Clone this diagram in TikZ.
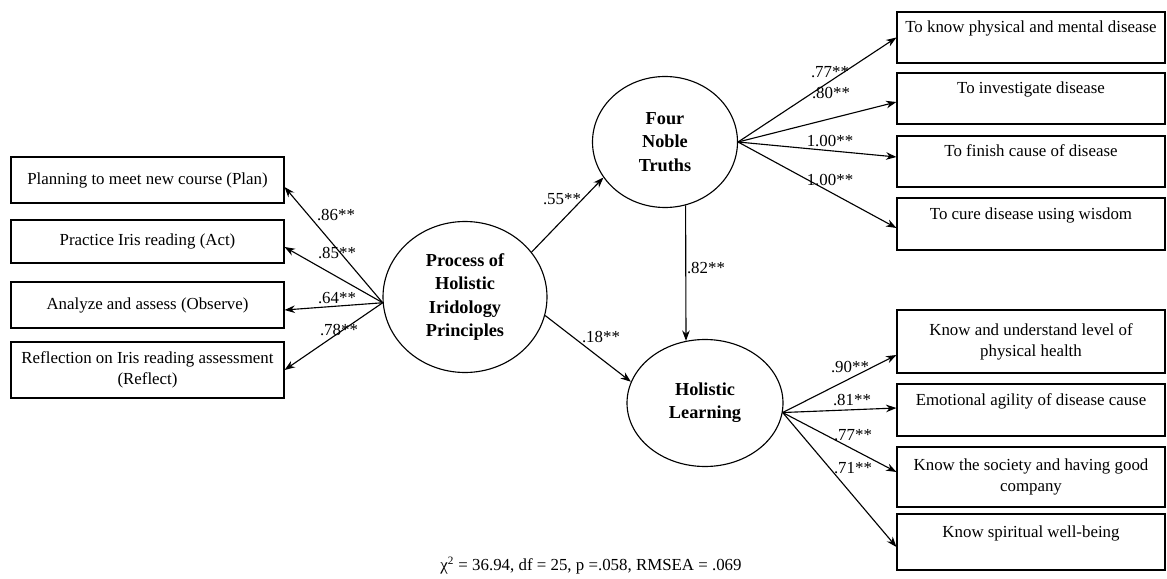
\documentclass[tikz,border=0pt]{standalone}
\usepackage{fontspec}
\setmainfont{Liberation Serif}
\usetikzlibrary{arrows.meta,shapes.geometric}

\tikzset{
  mbox/.style={draw, line width=0.8pt, minimum width=6.825cm, align=center,
    inner sep=0pt, font=\fontsize{12}{15}\selectfont},
  rbox/.style={mbox, minimum width=6.7cm},
  latent/.style={draw, ellipse, line width=0.8pt, align=center, inner sep=0pt,
    font=\fontsize{13}{16.5}\selectfont\bfseries},
  arr/.style={line width=0.8pt, -{Stealth[length=2.6mm,width=1.9mm]}},
  coef/.style={inner sep=0pt, font=\fontsize{12}{14}\selectfont},
}

\begin{document}
\begin{tikzpicture}
  \useasboundingbox (0,0) rectangle (29.175,14.45);

  % Latent variables
  \node[latent, minimum width=4.1cm, minimum height=3.775cm] (proc) at (11.625,7.025)
    {Process of\\Holistic\\Iridology\\Principles};
  \node[latent, minimum width=3.625cm, minimum height=3.275cm] (fnt) at (16.625,10.9)
    {Four\\Noble\\Truths};
  \node[latent, minimum width=3.9cm, minimum height=3.175cm] (hl) at (17.625,4.375)
    {Holistic\\Learning};

  % Indicators of the process (left)
  \foreach \nm/\y/\h/\txt in {plan/9.95/1.15/{Planning to meet new course (Plan)},
      act/8.4125/1.075/{Practice Iris reading (Act)},
      observe/6.825/1.15/{Analyze and assess (Observe)},
      reflect/5.2/1.4/{Reflection on Iris reading assessment\\(Reflect)}} {
    \node[mbox, minimum height=\h cm] (\nm) at (3.6875,\y) {\txt};
  }

  % Indicators of the four noble truths (top right)
  \foreach \nm/\y/\h/\txt in {know/13.5125/1.275/{To know physical and mental disease\\~},
      investigate/11.9875/1.275/{To investigate disease\\~},
      finish/10.4125/1.275/{To finish cause of disease\\~},
      cure/8.85/1.3/{To cure disease using wisdom\\~}} {
    \node[rbox, minimum height=\h cm] (\nm) at (25.775,\y) {\txt};
  }

  % Indicators of holistic learning (bottom right)
  \foreach \nm/\y/\h/\txt in {health/5.9125/1.575/{Know and understand level of\\physical health},
      emotion/4.2/1.3/{Emotional agility of disease cause\\~},
      society/2.525/1.5/{Know the society and having good\\company},
      spirit/0.9/1.4/{Know spiritual well-being\\~}} {
    \node[rbox, minimum height=\h cm] (\nm) at (25.775,\y) {\txt};
  }

  % Loadings
  \foreach \nm/\s/\val/\lx/\ly in {plan/-0.175/.86/8.4/9.075, act/-0.1375/.85/8.425/8.125,
      observe/-0.125/.64/8.425/7.0, reflect/0/.78/8.475/6.2} {
    \draw[arr] (proc.184) -- ([yshift=\s cm]\nm.east);
    \node[coef] (w\nm) at (\lx,\ly) {\val**};
  }
  \foreach \nm/\s/\val/\lx/\ly in {know/0/.77/20.75/12.65, investigate/-0.0875/.80/20.775/12.125,
      finish/0.1125/1.00/20.75/10.925, cure/-0.1/1.00/20.75/9.95} {
    \draw[arr] (fnt.east) -- ([yshift=\s cm]\nm.west);
    \node[coef] (w\nm) at (\lx,\ly) {\val**};
  }
  \foreach \nm/\s/\val/\lx/\ly in {health/-0.3375/.90/21.25/5.275, emotion/0.05/.81/21.3/4.45,
      society/0.125/.77/21.325/3.575, spirit/-0.125/.71/21.325/2.75} {
    \draw[arr] (hl.-7) -- ([yshift=\s cm]\nm.west);
    \node[coef] (w\nm) at (\lx,\ly) {\val**};
  }

  % Structural paths
  \draw[arr] (proc.34) -- (fnt.210);
  \node[coef] (wpf) at (14.05,9.475) {.55**};
  \draw[arr] (proc.-13) -- (hl.164);
  \node[coef] (wph) at (15.025,6.025) {.18**};
  \draw[arr] (fnt.-72) -- (hl.107);
  \node[coef] (wfh) at (17.65,7.75) {.82**};

  % Fit indices
  \node[coef] (fit) at (14.775,0.3) {χ\textsuperscript{2} = 36.94, df = 25, p =.058, RMSEA = .069};
\end{tikzpicture}
\end{document}
